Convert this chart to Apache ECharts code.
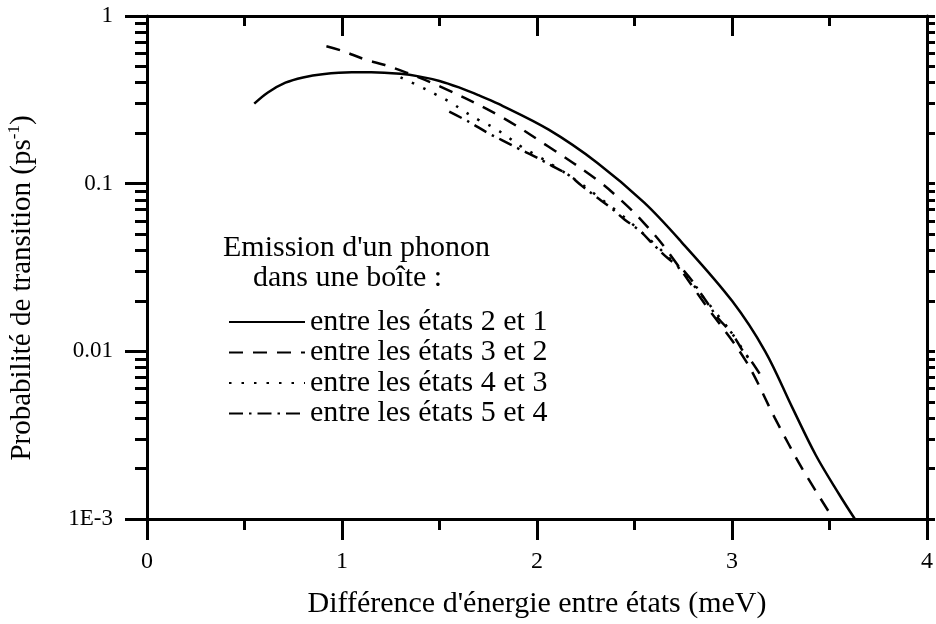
<!DOCTYPE html>
<html>
<head>
<meta charset="utf-8">
<script src="https://cdn.jsdelivr.net/npm/echarts@6/dist/echarts.min.js"></script>
<style>html,body{margin:0;padding:0;background:#fff}#c{width:936px;height:624px}</style>
</head>
<body>
<div id="c"></div>
<script>
// ---- data ----
const seriesNames = ['entre les états 2 et 1', 'entre les états 3 et 2', 'entre les états 4 et 3', 'entre les états 5 et 4'];

const x21 = [0.55, 0.62, 0.71, 0.80, 0.90, 1.05, 1.15, 1.30, 1.40, 1.50, 1.60, 1.70, 1.80, 2.06, 2.31, 2.55, 2.74, 3.00, 3.17, 3.31, 3.43, 3.55, 3.63];
const y21 = [0.30, 0.35, 0.40, 0.43, 0.45, 0.462, 0.462, 0.452, 0.435, 0.41, 0.375, 0.337, 0.30, 0.21, 0.133, 0.077, 0.045, 0.020, 0.010, 0.0046, 0.0024, 0.0014, 0.001];

const x32 = [0.92, 1.00, 1.12, 1.22, 1.33, 1.51, 1.80, 2.06, 2.31, 2.45, 2.55, 2.66, 2.86, 3.07, 3.22, 3.36, 3.52];
const y32 = [0.66, 0.62, 0.55, 0.51, 0.46, 0.377, 0.257, 0.166, 0.105, 0.076, 0.058, 0.041, 0.0192, 0.0088, 0.0040, 0.0020, 0.001];

const x43 = [1.30, 1.40, 1.48, 1.56, 1.62, 1.70, 1.78, 1.85, 1.92, 2.00, 2.10, 2.20, 2.30, 2.40, 2.50, 2.60, 2.70, 2.80, 2.90, 3.00, 3.10];
const y43 = [0.43, 0.38, 0.341, 0.304, 0.273, 0.24, 0.215, 0.19, 0.166, 0.147, 0.125, 0.105, 0.086, 0.070, 0.056, 0.044, 0.034, 0.025, 0.018, 0.0128, 0.0085];

const x54 = [1.55, 1.65, 1.75, 1.82, 1.90, 2.00, 2.07, 2.16, 2.23, 2.30, 2.38, 2.45, 2.53, 2.60, 2.67, 2.76, 2.86, 2.93, 3.00, 3.05, 3.10, 3.15];
const y54 = [0.269, 0.234, 0.20, 0.182, 0.163, 0.143, 0.129, 0.113, 0.097, 0.084, 0.0716, 0.061, 0.052, 0.043, 0.036, 0.0296, 0.0205, 0.0157, 0.0128, 0.0103, 0.0087, 0.0071];

const yMajorTicks = [0.001, 0.01, 0.1, 1];
const yTickLabels = ['1E-3', '0.01', '0.1', '1'];
const yMinorTicks = [0.002, 0.003, 0.004, 0.005, 0.006, 0.007, 0.008, 0.009,
                     0.02, 0.03, 0.04, 0.05, 0.06, 0.07, 0.08, 0.09,
                     0.2, 0.3, 0.4, 0.5, 0.6, 0.7, 0.8, 0.9];
const xTickLabels = ['0', '1', '2', '3', '4'];

// ---- chart ----
const pairs = (xs, ys) => xs.map((x, i) => [x, ys[i]]);
const FONT = 'Liberation Serif';
const BLACK = '#000';

const chart = echarts.init(document.getElementById('c'), null, {renderer: 'canvas'});

const lineW = 2.5;
function mkSeries(name, data, type) {
  return {
    name: name, type: 'line', data: data, showSymbol: false, symbol: 'none',
    smooth: 0.35, xAxisIndex: 0, yAxisIndex: 0,
    lineStyle: {color: BLACK, width: lineW, type: type},
    itemStyle: {color: BLACK},
    animation: false
  };
}

const option = {
  animation: false,
  backgroundColor: '#fff',
  grid: {left: 147, right: 5, top: 16, bottom: 105, containLabel: false},
  legend: {
    orient: 'vertical', left: 223, top: 302,
    itemWidth: 76, itemHeight: 14, itemGap: 0.5,
    itemStyle: {opacity: 0, borderWidth: 0},
    textStyle: {fontFamily: FONT, fontSize: 30, color: BLACK, lineHeight: 30, padding: [0, 0, 0, 0]},
    data: seriesNames
  },
  graphic: [
    {type: 'text', left: 223, top: 233, style: {text: "Emission d'un phonon", font: '30px "Liberation Serif"', fill: BLACK}},
    {type: 'text', left: 253, top: 263, style: {text: 'dans une boîte :', font: '30px "Liberation Serif"', fill: BLACK}},
    {type: 'text', x: 22, y: 288, rotation: Math.PI / 2,
     style: {
       text: 'Probabilité de transition (ps{sup|-1})',
       rich: {sup: {fontSize: 17, fontFamily: FONT, fill: BLACK, padding: [0, 0, 14, 0]}},
       fontFamily: FONT, fontSize: 29, fill: BLACK, align: 'center', verticalAlign: 'middle'
     }}
  ],
  xAxis: [
    {
      type: 'value', position: 'bottom', min: 0, max: 4, interval: 1,
      axisLine: {show: true, onZero: false, lineStyle: {color: BLACK, width: 3}},
      axisTick: {show: true, inside: false, length: 21, lineStyle: {color: BLACK, width: 3}},
      minorTick: {show: true, splitNumber: 2, length: 11, lineStyle: {color: BLACK, width: 3}},
      splitLine: {show: false},
      axisLabel: {show: true, margin: 31, fontFamily: FONT, fontSize: 24, color: BLACK,
                  formatter: (v) => xTickLabels[Math.round(v)]},
      name: "Différence d'énergie entre états (meV)", nameLocation: 'middle', nameGap: 70,
      nameTextStyle: {fontFamily: FONT, fontSize: 30, color: BLACK}
    },
    {
      type: 'value', position: 'top', min: 0, max: 4, interval: 1,
      axisLine: {show: true, onZero: false, lineStyle: {color: BLACK, width: 3}},
      axisTick: {show: true, inside: true, length: 20, lineStyle: {color: BLACK, width: 3}},
      minorTick: {show: true, splitNumber: 2, length: 10, lineStyle: {color: BLACK, width: 3}},
      splitLine: {show: false}, axisLabel: {show: false}
    }
  ],
  yAxis: [
    {
      type: 'log', logBase: 10, min: 0.001, max: 1, position: 'left',
      axisLine: {show: true, onZero: false, lineStyle: {color: BLACK, width: 3}},
      axisTick: {show: true, inside: false, length: 22, customValues: yMajorTicks, lineStyle: {color: BLACK, width: 3}},
      splitLine: {show: false},
      axisLabel: {show: true, margin: 34, fontFamily: FONT, fontSize: 23, color: BLACK,
                  customValues: yMajorTicks,
                  formatter: (v) => yTickLabels[Math.round(Math.log10(v)) + 3]}
    },
    {
      type: 'log', logBase: 10, min: 0.001, max: 1, position: 'left',
      axisLine: {show: false},
      axisTick: {show: true, inside: false, length: 12, customValues: yMinorTicks, lineStyle: {color: BLACK, width: 3}},
      splitLine: {show: false}, axisLabel: {show: false}
    },
    {
      type: 'log', logBase: 10, min: 0.001, max: 1, position: 'right',
      axisLine: {show: true, onZero: false, lineStyle: {color: BLACK, width: 3}},
      axisTick: {show: true, inside: false, length: 8, customValues: yMajorTicks.concat(yMinorTicks), lineStyle: {color: BLACK, width: 3}},
      splitLine: {show: false}, axisLabel: {show: false}
    }
  ],
  series: [
    mkSeries(seriesNames[0], pairs(x21, y21), 'solid'),
    mkSeries(seriesNames[1], pairs(x32, y32), [14, 10]),
    mkSeries(seriesNames[2], pairs(x43, y43), [2.5, 10]),
    mkSeries(seriesNames[3], pairs(x54, y54), [14, 6, 2.5, 6])
  ]
};
chart.setOption(option);
</script>
</body>
</html>
